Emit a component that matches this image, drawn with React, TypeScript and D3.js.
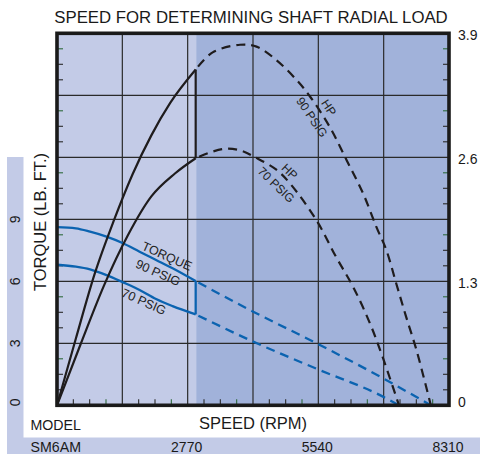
import React from 'react';
import * as d3 from 'd3';

// speed (rpm) / value pairs
const hp90SolidRpm = [0, 400, 800, 1200, 1600, 2000, 2400, 2940];
const hp90SolidVal = [0, 0.70, 1.38, 1.93, 2.42, 2.83, 3.17, 3.52];
const hp90DashRpm = [2940, 3300, 3880, 4230, 4650, 5080, 5360, 5780, 6140, 6490, 6770, 6980, 7190, 7400, 7620, 7925];
const hp90DashVal = [3.52, 3.70, 3.78, 3.76, 3.62, 3.41, 3.24, 2.92, 2.57, 2.22, 1.87, 1.63, 1.28, 0.93, 0.58, 0];

const hp70SolidRpm = [0, 500, 1000, 1500, 2000, 2500, 2940];
const hp70SolidVal = [0, 0.64, 1.26, 1.78, 2.19, 2.43, 2.59];
const hp70DashRpm = [2940, 3300, 3600, 3900, 4200, 4650, 4950, 5500, 5900, 6300, 6650, 6900, 7250];
const hp70DashVal = [2.59, 2.66, 2.69, 2.67, 2.60, 2.47, 2.32, 1.94, 1.57, 1.22, 0.84, 0.51, 0];

const tq90SolidRpm = [0, 400, 700, 1050, 1400, 1750, 2100, 2450, 2940];
const tq90SolidVal = [8.62, 8.56, 8.40, 8.16, 7.84, 7.43, 7.03, 6.63, 6.01];
const tq90DashRpm = [2940, 4160, 5530, 6910, 7925];
const tq90DashVal = [6.01, 4.53, 2.97, 1.31, 0];

const tq70SolidRpm = [0, 400, 700, 1050, 1400, 1750, 2100, 2450, 2940];
const tq70SolidVal = [6.80, 6.71, 6.58, 6.30, 5.95, 5.58, 5.14, 4.80, 4.40];
const tq70DashRpm = [2940, 4160, 5530, 6910, 7250];
const tq70DashVal = [4.40, 3.08, 1.74, 0.42, 0];

const speedTicks = [2770, 5540, 8310];
const torqueTicks = [0, 3, 6, 9];
const hpTicks = [0, 1.3, 2.6, 3.9];
const SPLIT_RPM = 2950;

const W = 480;
const H = 454;
const L = 57, R = 449, T = 33.3, B = 405.3;

const x = d3.scaleLinear().domain([0, 8310]).range([L, R]);
const yT = d3.scaleLinear().domain([0, 18]).range([B, T]);
const yH = d3.scaleLinear().domain([0, 3.9]).range([B, T]);

const FONT = 'Liberation Sans, Arial, Helvetica, sans-serif';
const BLACK = '#1f1c1d';
const BLUE = '#0b63b0';
const LIGHT = '#c3cbe7';
const DARK = '#a1b2da';

const zip = (a: number[], b: number[]) => a.map((v, i) => [v, b[i]] as [number, number]);

const hpLine = d3.line<[number, number]>().x(d => x(d[0])).y(d => yH(d[1])).curve(d3.curveMonotoneX);
const hpDashLine = d3.line<[number, number]>().x(d => x(d[0])).y(d => yH(d[1])).curve(d3.curveCatmullRom);
const tqLine = d3.line<[number, number]>().x(d => x(d[0])).y(d => yT(d[1])).curve(d3.curveMonotoneX);

const Label = ({ rpm, v, scale, angle, text, size = 12.5 }: any) => {
  const px = x(rpm);
  const py = scale(v);
  return (
    <text x={px} y={py} transform={`rotate(${angle},${px},${py})`} textAnchor="middle"
      dominantBaseline="central" fontSize={size} fill="#222" fontFamily={FONT}>{text}</text>
  );
};

export default function App() {
  const colStep = 8310 / 6;
  const vGrid = d3.range(1, 6).map(i => i * colStep);
  const hGrid = d3.range(1, 6).map(i => i * 3);
  const xMinor = d3.range(1, 24).map(i => i * colStep / 4).filter((_, i) => (i + 1) % 4 !== 0);
  const yMinor = d3.range(1, 24).map(i => i * 0.75).filter((_, i) => (i + 1) % 4 !== 0);

  return (
    <div style={{ position: 'absolute', left: 0, top: 0 }}>
      <svg width={W} height={H} style={{ display: 'block' }}>
        <rect x={0} y={0} width={W} height={H} fill="#fff" />
        {/* left strip + model band */}
        <rect x={7} y={157} width={16.5} height={H - 157} fill={LIGHT} />
        <rect x={7} y={437.5} width={W - 7} height={H - 437.5} fill={LIGHT} />

        {/* plot backgrounds */}
        <rect x={L} y={T} width={x(SPLIT_RPM) - L} height={B - T} fill={LIGHT} />
        <rect x={x(SPLIT_RPM)} y={T} width={R - x(SPLIT_RPM)} height={B - T} fill={DARK} />

        {/* grid */}
        {vGrid.map(v => (
          <line key={'vg' + v} x1={x(v)} x2={x(v)} y1={T} y2={B} stroke="#2a2a2a" strokeWidth={1.2} />
        ))}
        {hGrid.map(v => (
          <line key={'hg' + v} x1={L} x2={R} y1={yT(v)} y2={yT(v)} stroke="#2a2a2a" strokeWidth={1.2} />
        ))}

        {/* minor ticks */}
        {xMinor.map((v, i) => (
          <line key={'xt' + i} x1={x(v)} x2={x(v)} y1={B} y2={B - 6}
            stroke={i % 3 === 2 ? '#2e6a3c' : '#2a2a2a'} strokeWidth={1.1} />
        ))}
        {yMinor.map((v, i) => (
          <g key={'yt' + i}>
            <line x1={L} x2={L + 6} y1={yT(v)} y2={yT(v)}
              stroke={i % 3 === 2 ? '#2e6a3c' : '#2a2a2a'} strokeWidth={1.1} />
            <line x1={R} x2={R - 6} y1={yT(v)} y2={yT(v)}
              stroke={i % 3 === 2 ? '#2e6a3c' : '#2a2a2a'} strokeWidth={1.1} />
          </g>
        ))}

        {/* torque curves */}
        <path d={tqLine(zip(tq90SolidRpm, tq90SolidVal)) || ''} fill="none" stroke={BLUE} strokeWidth={2.3} />
        <path d={tqLine(zip(tq70SolidRpm, tq70SolidVal)) || ''} fill="none" stroke={BLUE} strokeWidth={2.3} />
        <line x1={x(2940)} x2={x(2940)} y1={yT(tq90SolidVal[tq90SolidVal.length - 1])} y2={yT(tq70SolidVal[tq70SolidVal.length - 1])}
          stroke={BLUE} strokeWidth={2.3} />
        <path d={tqLine(zip(tq90DashRpm, tq90DashVal)) || ''} fill="none" stroke={BLUE} strokeWidth={2.3}
          strokeDasharray="9,6" strokeDashoffset={-3} />
        <path d={tqLine(zip(tq70DashRpm, tq70DashVal)) || ''} fill="none" stroke={BLUE} strokeWidth={2.3}
          strokeDasharray="9,6" strokeDashoffset={-3} />

        {/* hp curves */}
        <path d={hpLine(zip(hp90SolidRpm, hp90SolidVal)) || ''} fill="none" stroke={BLACK} strokeWidth={2.2} />
        <path d={hpLine(zip(hp70SolidRpm, hp70SolidVal)) || ''} fill="none" stroke={BLACK} strokeWidth={2.2} />
        <line x1={x(2940)} x2={x(2940)} y1={yH(hp90SolidVal[hp90SolidVal.length - 1])} y2={yH(hp70SolidVal[hp70SolidVal.length - 1])}
          stroke={BLACK} strokeWidth={2.2} />
        <path d={hpDashLine(zip(hp90DashRpm, hp90DashVal)) || ''}
          fill="none" stroke={BLACK} strokeWidth={2.2} strokeDasharray="9,6" strokeDashoffset={-4} />
        <path d={hpDashLine(zip(hp70DashRpm, hp70DashVal)) || ''}
          fill="none" stroke={BLACK} strokeWidth={2.2} strokeDasharray="9,6" strokeDashoffset={-4} />

        {/* frame */}
        <rect x={L} y={T} width={R - L} height={B - T} fill="none" stroke="#1a1a1a" strokeWidth={3.6} />

        {/* curve labels */}
        <Label rpm={2330} v={7.2} scale={yT} angle={24} text="TORQUE" />
        <Label rpm={2140} v={6.4} scale={yT} angle={24} text="90 PSIG" />
        <Label rpm={1840} v={5.0} scale={yT} angle={24} text="70 PSIG" />
        <Label rpm={5760} v={3.12} scale={yH} angle={56} text="HP" size={12} />
        <Label rpm={5400} v={3.02} scale={yH} angle={56} text="90 PSIG" size={12} />
        <Label rpm={4930} v={2.45} scale={yH} angle={44} text="HP" size={12} />
        <Label rpm={4645} v={2.31} scale={yH} angle={44} text="70 PSIG" size={12} />

        {/* title */}
        <text x={(L + R) / 2 - 2} y={23} textAnchor="middle" fontSize={16.8} fontFamily={FONT} fill="#1a1a1a">
          SPEED FOR DETERMINING SHAFT RADIAL LOAD
        </text>

        {/* right HP axis */}
        {hpTicks.map(v => (
          <text key={'hp' + v} x={458} y={yH(v) + (v === 0 ? -3 : 2)} dominantBaseline="central" fontSize={14}
            fontFamily={FONT} fill="#1a1a1a">{v === 0 ? '0' : v.toFixed(1)}</text>
        ))}

        {/* left torque axis */}
        {torqueTicks.map(v => {
          const py = yT(v) + (v === 0 ? -3 : 0);
          return (
            <text key={'tq' + v} x={15} y={py} transform={`rotate(-90,15,${py})`} textAnchor="middle"
              dominantBaseline="central" fontSize={14} fontFamily={FONT} fill="#1a1a1a">{v}</text>
          );
        })}
        <text x={46} y={222} transform="rotate(-90,46,222)" textAnchor="middle" fontSize={16.5}
          fontFamily={FONT} fill="#1a1a1a">TORQUE (LB. FT.)</text>

        {/* bottom labels */}
        <text x={30.5} y={429.5} fontSize={14.2} fontFamily={FONT} fill="#1a1a1a">MODEL</text>
        <text x={253} y={428.5} textAnchor="middle" fontSize={16.5} fontFamily={FONT} fill="#1a1a1a">SPEED (RPM)</text>
        <text x={30.5} y={452} fontSize={14.2} fontFamily={FONT} fill="#1a1a1a">SM6AM</text>
        {speedTicks.map(v => (
          <text key={'sp' + v} x={x(v) - 1} y={452} textAnchor="middle" fontSize={14} fontFamily={FONT}
            fill="#1a1a1a">{v}</text>
        ))}
      </svg>
    </div>
  );
}
